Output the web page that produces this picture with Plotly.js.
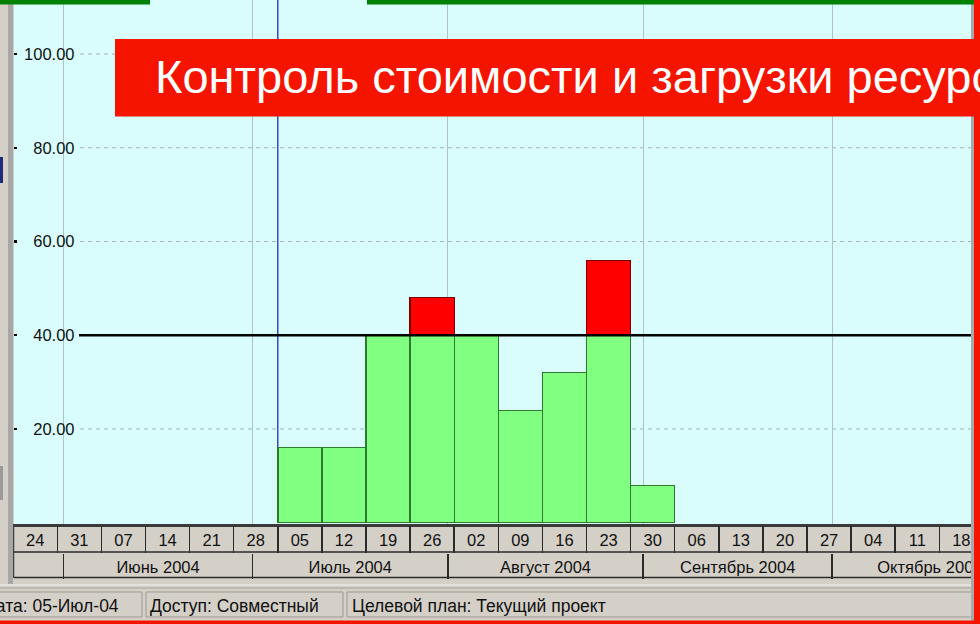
<!DOCTYPE html>
<html><head><meta charset="utf-8">
<script src="https://cdn.plot.ly/plotly-3.0.1.min.js"></script>
<style>html,body{margin:0;padding:0;background:#D4D0C8;overflow:hidden} #chart{width:980px;height:624px;}</style>
</head><body><div id="chart"></div>
<script>
// ---- data ----
const weekStarts = ['2004-05-24','2004-05-31','2004-06-07','2004-06-14','2004-06-21','2004-06-28','2004-07-05','2004-07-12','2004-07-19','2004-07-26','2004-08-02','2004-08-09','2004-08-16','2004-08-23','2004-08-30','2004-09-06','2004-09-13','2004-09-20','2004-09-27','2004-10-04','2004-10-11','2004-10-18'];
const weekLabels = ['24','31','07','14','21','28','05','12','19','26','02','09','16','23','30','06','13','20','27','04','11','18'];
const monthStarts = ['2004-06-01','2004-07-01','2004-08-01','2004-09-01','2004-10-01','2004-11-01'];
const monthLabels = ['Июнь 2004','Июль 2004','Август 2004','Сентябрь 2004','Октябрь 2004'];
const barWeeks = ['2004-07-05','2004-07-12','2004-07-19','2004-07-26','2004-08-02','2004-08-09','2004-08-16','2004-08-23','2004-08-30'];
const normalUnits = [16,16,40,40,40,24,32,40,8];
const overUnits   = [0,0,0,8,0,0,0,16,0];
const unitLimit = 40;
const yTicks = [20,40,60,80,100];
const dataDate = '2004-07-05';
const titleText = 'Контроль стоимости и загрузки ресурсов';
const statusTexts = ['Дата: 05-Июл-04','Доступ: Совместный','Целевой план: Текущий проект'];

// ---- helpers ----
const W = 980, H = 624;
const px = x => x / W;
const py = y => 1 - y / H;
const DAY = 86400000;
const toMs = s => Date.parse(s.length <= 10 ? s + 'T00:00:00Z' : s.replace(' ', 'T') + 'Z');
const toStr = ms => new Date(ms).toISOString().slice(0, 19).replace('T', ' ');
const weekMids = weekStarts.map(s => toStr(toMs(s) + 3.5 * DAY));
const monthMids = monthLabels.map((_, i) => toStr((toMs(monthStarts[i]) + toMs(monthStarts[i + 1])) / 2));
const xRange = ['2004-05-24 03:03', '2004-10-23 00:43'];
const yRange = [-0.28, 111.53];
const FONT = 'Liberation Sans, Arial, sans-serif';

const traces = [
  {type: 'bar', x: barWeeks, y: normalUnits, offset: 0, width: barWeeks.map(() => 7 * DAY),
   marker: {color: '#80FF80', line: {color: '#2F7A2F', width: 1.4}}, hoverinfo: 'skip'},
  {type: 'bar', x: barWeeks, y: overUnits, offset: 0, width: barWeeks.map(() => 7 * DAY),
   marker: {color: '#FF0000', line: {color: '#7A0000', width: overUnits.map(v => v > 0 ? 1.4 : 0)}}, hoverinfo: 'skip'}
];
// carrier traces so that the overlaying timescale / label axes are drawn
['x3', 'x4', 'x5', 'x6'].forEach(ax => traces.push({type: 'scatter', x: [], y: [], xaxis: ax, yaxis: 'y', hoverinfo: 'skip'}));
traces.push({type: 'scatter', x: [], y: [], xaxis: 'x', yaxis: 'y2', hoverinfo: 'skip'});

const freeAxis = (pos, extra) => Object.assign({
  type: 'date', overlaying: 'x', anchor: 'free', position: pos, range: xRange,
  showgrid: false, zeroline: false, showline: false, fixedrange: true, ticklabeloverflow: 'allow'
}, extra);

const shapes = [];
shapes.push({type: 'line', xref: 'x', yref: 'y', x0: dataDate, x1: dataDate, y0: 0, y1: yRange[1],
  line: {color: '#2626C8', width: 1.3}, layer: 'below'});
yTicks.forEach(v => shapes.push({type: 'line', xref: 'paper', yref: 'y', x0: px(80), x1: px(971), y0: v, y1: v,
  line: {color: '#A6B3B7', width: 1, dash: '4px,4px'}, layer: 'below'}));
shapes.push({type: 'line', xref: 'paper', yref: 'y', x0: px(79), x1: px(971), y0: unitLimit, y1: unitLimit,
  line: {color: '#000000', width: 2.5}, layer: 'above'});
[552, 577.5].forEach(y => shapes.push({type: 'line', xref: 'paper', yref: 'paper', x0: px(14), x1: px(971), y0: py(y), y1: py(y),
  line: {color: '#2A2A2A', width: 1.5}}));
shapes.push({type: 'line', xref: 'paper', yref: 'paper', x0: px(13.5), x1: px(13.5), y0: py(524), y1: py(578), line: {color: '#404040', width: 1.5}});
shapes.push({type: 'rect', xref: 'paper', yref: 'paper', x0: px(8), x1: px(13), y0: py(0), y1: py(584), fillcolor: '#A7A7A7', line: {width: 0}});
shapes.push({type: 'rect', xref: 'paper', yref: 'paper', x0: px(0), x1: px(3), y0: py(183), y1: py(157), fillcolor: '#1E2A78', line: {width: 0}});
shapes.push({type: 'rect', xref: 'paper', yref: 'paper', x0: px(0), x1: px(3), y0: py(500), y1: py(466), fillcolor: '#9A9A9A', line: {width: 0}});
shapes.push({type: 'line', xref: 'paper', yref: 'paper', x0: 0, x1: 1, y0: py(585), y1: py(585), line: {color: '#F2F2F2', width: 1}});
shapes.push({type: 'line', xref: 'paper', yref: 'paper', x0: 0, x1: 1, y0: py(588), y1: py(588), line: {color: '#A5A29A', width: 1}});
[[-4, 142], [146, 343], [347, 972]].forEach(([a, b]) => {
  shapes.push({type: 'rect', xref: 'paper', yref: 'paper', x0: px(a), x1: px(b), y0: py(617), y1: py(592),
    line: {color: '#9C9990', width: 1}, fillcolor: 'rgba(0,0,0,0)'});
});
shapes.push({type: 'rect', xref: 'paper', yref: 'paper', x0: px(971), x1: px(974), y0: 0, y1: 1, fillcolor: '#A9A9A9', line: {width: 0}});
shapes.push({type: 'rect', xref: 'paper', yref: 'paper', x0: px(974), x1: px(980), y0: 0, y1: 1, fillcolor: '#F41400', line: {width: 0}});
shapes.push({type: 'rect', xref: 'paper', yref: 'paper', x0: 0, x1: 1, y0: py(624), y1: py(620.5), fillcolor: '#F41400', line: {width: 0}});
shapes.push({type: 'rect', xref: 'paper', yref: 'paper', x0: px(0), x1: px(150), y0: py(4.5), y1: py(0), fillcolor: '#008000', line: {width: 0}});
shapes.push({type: 'rect', xref: 'paper', yref: 'paper', x0: px(367), x1: px(974), y0: py(4.5), y1: py(0), fillcolor: '#008000', line: {width: 0}});
shapes.push({type: 'rect', xref: 'paper', yref: 'paper', x0: px(115), x1: px(981), y0: py(116.5), y1: py(39), fillcolor: '#F41400', line: {width: 0}});

const SF = 17.5;
const annotations = [
  {xref: 'paper', yref: 'paper', x: px(121), y: py(606), xanchor: 'right', yanchor: 'middle', text: statusTexts[0], showarrow: false, font: {family: FONT, size: SF, color: '#111'}},
  {xref: 'paper', yref: 'paper', x: px(148), y: py(606), xanchor: 'left', yanchor: 'middle', text: statusTexts[1], showarrow: false, font: {family: FONT, size: SF, color: '#111'}},
  {xref: 'paper', yref: 'paper', x: px(350), y: py(606), xanchor: 'left', yanchor: 'middle', text: statusTexts[2], showarrow: false, font: {family: FONT, size: SF, color: '#111'}}
];

const layout = {
  width: W, height: H,
  margin: {l: 0, r: 0, t: 0, b: 0},
  paper_bgcolor: '#D4D0C8',
  plot_bgcolor: '#D9FDFD',
  showlegend: false,
  barmode: 'stack',
  title: {text: titleText, x: px(155), xanchor: 'left', xref: 'paper', y: py(77), yanchor: 'middle', yref: 'paper',
    font: {family: FONT, size: 47, color: '#FFFFFF'}},
  xaxis: {type: 'date', domain: [px(14), px(971)], range: xRange, anchor: 'y',
    tickmode: 'array', tickvals: monthStarts, showticklabels: false, ticks: '',
    showgrid: true, gridcolor: '#B3C0C4', gridwidth: 1, zeroline: false,
    showline: true, linecolor: '#3A3A3A', linewidth: 2.5, fixedrange: true},
  xaxis3: freeAxis(py(525), {tickmode: 'array', tickvals: weekStarts, ticks: 'outside', ticklen: 27, tickwidth: 1.5, tickcolor: '#2A2A2A', showticklabels: false}),
  xaxis4: freeAxis(py(525), {tickmode: 'array', tickvals: weekMids, ticktext: weekLabels, ticks: '', ticklabelstandoff: 3, tickfont: {family: FONT, size: 16.5, color: '#111'}}),
  xaxis5: freeAxis(py(552.5), {tickmode: 'array', tickvals: monthStarts, ticks: 'outside', ticklen: 25, tickwidth: 1.5, tickcolor: '#2A2A2A', showticklabels: false}),
  xaxis6: freeAxis(py(552.5), {tickmode: 'array', tickvals: monthMids, ticktext: monthLabels, ticks: '', ticklabelstandoff: 3, tickfont: {family: FONT, size: 16.5, color: '#111'}}),
  yaxis: {domain: [py(524), 1], range: yRange, anchor: 'x', tickmode: 'array', tickvals: yTicks,
    showticklabels: false, ticks: 'inside', ticklen: 3, tickwidth: 2.5, tickcolor: '#000',
    showgrid: false, zeroline: false, showline: false, fixedrange: true},
  yaxis2: {overlaying: 'y', anchor: 'free', position: px(74.5), side: 'left', range: yRange,
    tickmode: 'array', tickvals: yTicks, tickformat: '.2f', ticks: '',
    showgrid: false, zeroline: false, showline: false, fixedrange: true,
    tickfont: {family: FONT, size: 16.5, color: '#111'}},
  shapes: shapes,
  annotations: annotations
};

Plotly.newPlot('chart', traces, layout, {staticPlot: true, displayModeBar: false});
</script>
</body></html>
